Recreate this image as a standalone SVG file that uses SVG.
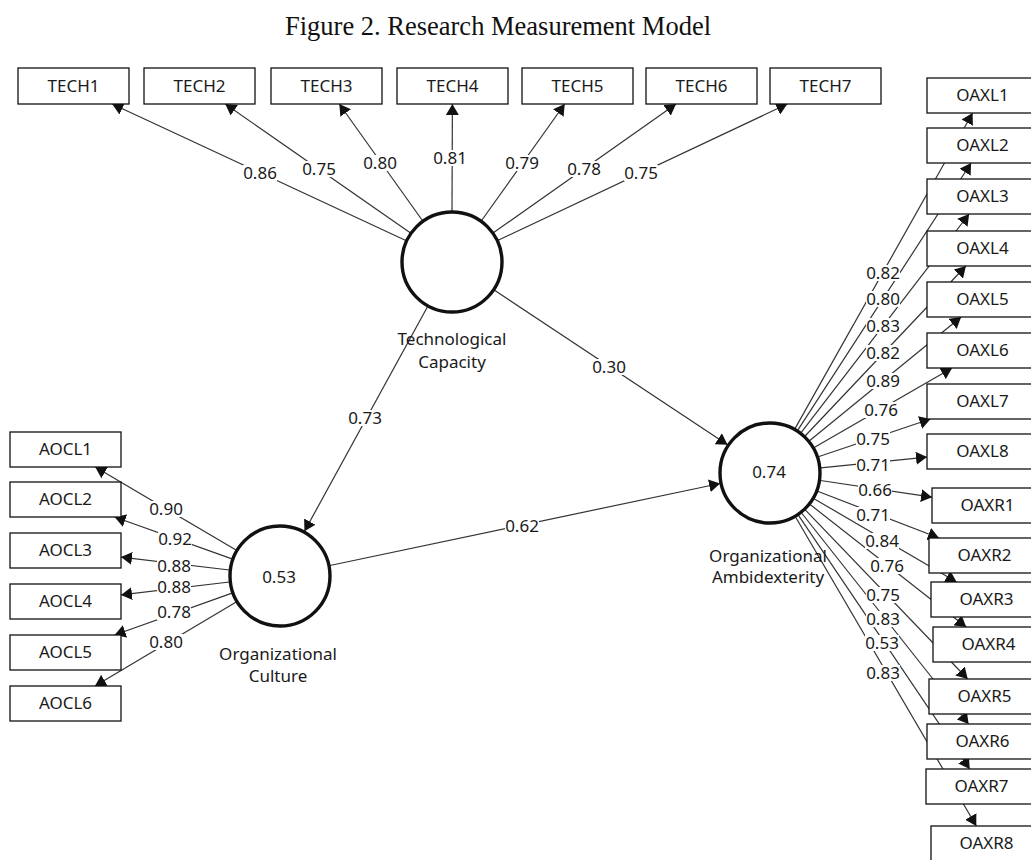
<svg xmlns="http://www.w3.org/2000/svg" width="1031" height="860" viewBox="0 0 1031 860">
<style>
.title{font-family:"Liberation Serif","Times New Roman",serif;font-size:26.5px;fill:#111;text-anchor:middle}
.box rect{fill:#fff;stroke:#111;stroke-width:1.3}
.box text,.lv text{font-family:"Noto Sans","Open Sans",sans-serif;font-size:17px;fill:#1a1a1a;text-anchor:middle}
.lv circle{fill:#fff;stroke:#111;stroke-width:3.4}
.cn line{stroke:#333;stroke-width:1.2;marker-end:url(#ah)}
.lb rect{fill:#fff}
.lb text{font-family:"Noto Sans","Open Sans",sans-serif;font-size:17px;fill:#1a1a1a;text-anchor:middle}
</style>
<defs>
<marker id="ah" markerUnits="userSpaceOnUse" markerWidth="12" markerHeight="13" refX="11" refY="6.5" orient="auto">
<path d="M0,0 L11,6.5 L0,13 z" fill="#111"/>
</marker>
</defs>
<rect width="1031" height="860" fill="#fff"/>
<text class="title" x="498" y="35">Figure 2. Research Measurement Model</text>

<g id="connectors" class="cn">
<line x1="405.8" y1="240.5" x2="112.2" y2="104"/>
<line x1="410.2" y1="232.8" x2="225.3" y2="104"/>
<line x1="422.4" y1="220.5" x2="339.3" y2="104"/>
<line x1="452" y1="211" x2="452.4" y2="104"/>
<line x1="481.6" y1="220.5" x2="564.7" y2="104"/>
<line x1="493.7" y1="232.6" x2="676" y2="104"/>
<line x1="498.1" y1="240.3" x2="787.3" y2="104"/>
<line x1="427.5" y1="306.7" x2="304.5" y2="531.3"/>
<line x1="494.5" y1="290.2" x2="727.5" y2="444.8"/>
<line x1="329.9" y1="565.5" x2="720.1" y2="483.5"/>
<line x1="236.0" y1="550.1" x2="95.2" y2="467"/>
<line x1="232.0" y1="558.9" x2="114.6" y2="517"/>
<line x1="229.4" y1="570.0" x2="121" y2="557.1"/>
<line x1="229.4" y1="582.0" x2="121" y2="594.9"/>
<line x1="232.0" y1="593.1" x2="114.6" y2="635"/>
<line x1="236.2" y1="602.1" x2="95" y2="686"/>
<line x1="795.0" y1="428.6" x2="972.6" y2="113"/>
<line x1="797.8" y1="430.2" x2="971.1" y2="163"/>
<line x1="801.1" y1="432.6" x2="969.1" y2="214"/>
<line x1="805.1" y1="436.0" x2="965.9" y2="266"/>
<line x1="809.5" y1="440.7" x2="961.1" y2="317"/>
<line x1="814.2" y1="447.5" x2="952.1" y2="368"/>
<line x1="818.3" y1="456.7" x2="930.5" y2="419"/>
<line x1="820.7" y1="467.9" x2="927" y2="457.1"/>
<line x1="820.4" y1="480.5" x2="932" y2="497.2"/>
<line x1="817.6" y1="491.3" x2="939" y2="538"/>
<line x1="814.0" y1="498.7" x2="956.6" y2="582"/>
<line x1="810.1" y1="504.5" x2="966.2" y2="627"/>
<line x1="805.3" y1="509.8" x2="967.7" y2="679"/>
<line x1="801.6" y1="513.0" x2="968.6" y2="724"/>
<line x1="798.5" y1="515.3" x2="969.7" y2="769"/>
<line x1="795.7" y1="517.2" x2="976.3" y2="826"/>
</g>

<g id="connector-labels" class="lb">
<rect x="243" y="165" width="34" height="16"/><text x="260" y="179">0.86</text>
<rect x="302" y="161" width="34" height="16"/><text x="319" y="175">0.75</text>
<rect x="363" y="155" width="34" height="16"/><text x="380" y="169">0.80</text>
<rect x="433" y="150" width="34" height="16"/><text x="450" y="164">0.81</text>
<rect x="505" y="155" width="34" height="16"/><text x="522" y="169">0.79</text>
<rect x="567" y="161" width="34" height="16"/><text x="584" y="175">0.78</text>
<rect x="624" y="165" width="34" height="16"/><text x="641" y="179">0.75</text>
<rect x="348" y="410" width="34" height="16"/><text x="365" y="424">0.73</text>
<rect x="592" y="359" width="34" height="16"/><text x="609" y="373">0.30</text>
<rect x="505" y="518" width="34" height="16"/><text x="522" y="532">0.62</text>
<rect x="149" y="501" width="34" height="16"/><text x="166" y="515">0.90</text>
<rect x="158" y="531" width="34" height="16"/><text x="175" y="545">0.92</text>
<rect x="157" y="558" width="34" height="16"/><text x="174" y="572">0.88</text>
<rect x="157" y="579" width="34" height="16"/><text x="174" y="593">0.88</text>
<rect x="157" y="604" width="34" height="16"/><text x="174" y="618">0.78</text>
<rect x="149" y="634" width="34" height="16"/><text x="166" y="648">0.80</text>
<rect x="866" y="265" width="34" height="16"/><text x="883" y="279">0.82</text>
<rect x="866" y="291" width="34" height="16"/><text x="883" y="305">0.80</text>
<rect x="866" y="318" width="34" height="16"/><text x="883" y="332">0.83</text>
<rect x="866" y="345" width="34" height="16"/><text x="883" y="359">0.82</text>
<rect x="866" y="373" width="34" height="16"/><text x="883" y="387">0.89</text>
<rect x="864" y="402" width="34" height="16"/><text x="881" y="416">0.76</text>
<rect x="856" y="431" width="34" height="16"/><text x="873" y="445">0.75</text>
<rect x="856" y="457" width="34" height="16"/><text x="873" y="471">0.71</text>
<rect x="858" y="482" width="34" height="16"/><text x="875" y="496">0.66</text>
<rect x="856" y="507" width="34" height="16"/><text x="873" y="521">0.71</text>
<rect x="865" y="533" width="34" height="16"/><text x="882" y="547">0.84</text>
<rect x="870" y="558" width="34" height="16"/><text x="887" y="572">0.76</text>
<rect x="866" y="587" width="34" height="16"/><text x="883" y="601">0.75</text>
<rect x="866" y="611" width="34" height="16"/><text x="883" y="625">0.83</text>
<rect x="865" y="635" width="34" height="16"/><text x="882" y="649">0.53</text>
<rect x="866" y="665" width="34" height="16"/><text x="883" y="679">0.83</text>
</g>

<g id="TC" class="lv"><circle cx="452" cy="262" r="50"/><text x="452" y="345">Technological</text><text x="452" y="368">Capacity</text></g>
<g id="OC" class="lv"><circle cx="280" cy="576" r="50"/><text x="279" y="583">0.53</text><text x="278" y="660">Organizational</text><text x="278" y="682">Culture</text></g>
<g id="OA" class="lv"><circle cx="770" cy="473" r="50"/><text x="769" y="478">0.74</text><text x="768" y="562">Organizational</text><text x="768" y="583">Ambidexterity</text></g>

<g id="TECH1" class="box"><rect x="18" y="68" width="111" height="36"/><text x="73.5" y="92">TECH1</text></g>
<g id="TECH2" class="box"><rect x="144" y="68" width="111" height="36"/><text x="199.5" y="92">TECH2</text></g>
<g id="TECH3" class="box"><rect x="271" y="68" width="111" height="36"/><text x="326.5" y="92">TECH3</text></g>
<g id="TECH4" class="box"><rect x="397" y="68" width="111" height="36"/><text x="452.5" y="92">TECH4</text></g>
<g id="TECH5" class="box"><rect x="522" y="68" width="111" height="36"/><text x="577.5" y="92">TECH5</text></g>
<g id="TECH6" class="box"><rect x="646" y="68" width="111" height="36"/><text x="701.5" y="92">TECH6</text></g>
<g id="TECH7" class="box"><rect x="770" y="68" width="111" height="36"/><text x="825.5" y="92">TECH7</text></g>

<g id="AOCL1" class="box"><rect x="10" y="432" width="111" height="35"/><text x="65.5" y="455">AOCL1</text></g>
<g id="AOCL2" class="box"><rect x="10" y="482" width="111" height="35"/><text x="65.5" y="505">AOCL2</text></g>
<g id="AOCL3" class="box"><rect x="10" y="533" width="111" height="35"/><text x="65.5" y="556">AOCL3</text></g>
<g id="AOCL4" class="box"><rect x="10" y="584" width="111" height="35"/><text x="65.5" y="607">AOCL4</text></g>
<g id="AOCL5" class="box"><rect x="10" y="635" width="111" height="35"/><text x="65.5" y="658">AOCL5</text></g>
<g id="AOCL6" class="box"><rect x="10" y="686" width="111" height="35"/><text x="65.5" y="709">AOCL6</text></g>

<g id="OAXL1" class="box"><rect x="927" y="78" width="111" height="35"/><text x="982.5" y="101">OAXL1</text></g>
<g id="OAXL2" class="box"><rect x="927" y="128" width="111" height="35"/><text x="982.5" y="151">OAXL2</text></g>
<g id="OAXL3" class="box"><rect x="927" y="179" width="111" height="35"/><text x="982.5" y="202">OAXL3</text></g>
<g id="OAXL4" class="box"><rect x="927" y="231" width="111" height="35"/><text x="982.5" y="254">OAXL4</text></g>
<g id="OAXL5" class="box"><rect x="927" y="282" width="111" height="35"/><text x="982.5" y="305">OAXL5</text></g>
<g id="OAXL6" class="box"><rect x="927" y="333" width="111" height="35"/><text x="982.5" y="356">OAXL6</text></g>
<g id="OAXL7" class="box"><rect x="927" y="384" width="111" height="35"/><text x="982.5" y="407">OAXL7</text></g>
<g id="OAXL8" class="box"><rect x="927" y="434" width="111" height="35"/><text x="982.5" y="457">OAXL8</text></g>
<g id="OAXR1" class="box"><rect x="932" y="488" width="111" height="35"/><text x="987.5" y="511">OAXR1</text></g>
<g id="OAXR2" class="box"><rect x="929" y="538" width="111" height="35"/><text x="984.5" y="561">OAXR2</text></g>
<g id="OAXR3" class="box"><rect x="931" y="582" width="111" height="35"/><text x="986.5" y="605">OAXR3</text></g>
<g id="OAXR4" class="box"><rect x="933" y="627" width="111" height="35"/><text x="988.5" y="650">OAXR4</text></g>
<g id="OAXR5" class="box"><rect x="929" y="679" width="111" height="35"/><text x="984.5" y="702">OAXR5</text></g>
<g id="OAXR6" class="box"><rect x="927" y="724" width="111" height="35"/><text x="982.5" y="747">OAXR6</text></g>
<g id="OAXR7" class="box"><rect x="926" y="769" width="111" height="35"/><text x="981.5" y="792">OAXR7</text></g>
<g id="OAXR8" class="box"><rect x="931" y="826" width="111" height="35"/><text x="986.5" y="849">OAXR8</text></g>
</svg>
